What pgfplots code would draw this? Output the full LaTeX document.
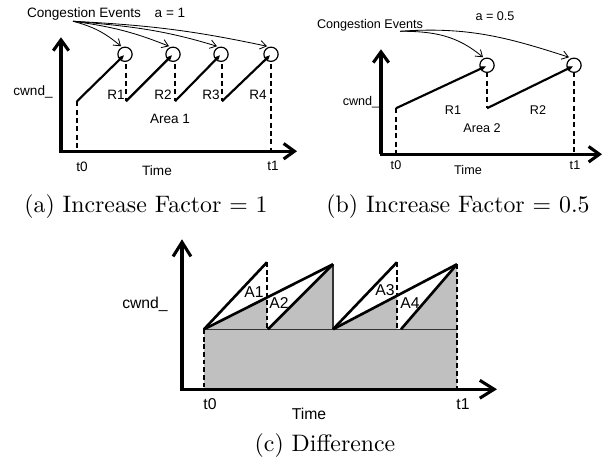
\documentclass[border=0pt]{standalone}
\usepackage{fontspec}
\usepackage{pgfplots}
\pgfplotsset{compat=1.18}
\usetikzlibrary{arrows.meta}
\newfontfamily\lab{Liberation Sans}
\definecolor{shade}{RGB}{192,192,192}
\newcommand\fonta{\lab\fontsize{5.7}{6.5}\selectfont}
\newcommand\fontb{\lab\fontsize{5.3}{6}\selectfont}
\newcommand\fontc{\lab\fontsize{6.6}{7.5}\selectfont}

\begin{document}
\begin{tikzpicture}[
  axarrow/.style={line width=1.3pt, -{Straight Barb[length=4.5pt,width=6.5pt]}},
  bigarrow/.style={line width=1.3pt, -{Straight Barb[length=6pt,width=7.5pt]}},
  saw/.style={line width=0.9pt, -{Stealth[length=2.5pt,width=2.2pt]}},
  dline/.style={line width=1.1pt, dash pattern=on 2.2pt off 1.3pt},
  ev/.style={line width=0.35pt, -{Straight Barb[length=2.6pt,width=3.6pt]}},
]
\begin{axis}[hide axis, x=0.42pt, y=0.42pt,
  xmin=0, xmax=610, ymin=0, ymax=468, clip=false]
\path (0,0) rectangle (610,468);

% ---- (a) increase factor 1
\addplot[axarrow] coordinates {(61,319) (61,433)};
\addplot[axarrow] coordinates {(59,319) (297,319)};
\addplot[dline] coordinates {(77,369) (77,319)};
\addplot[dline] coordinates {(126,406) (126,369)};
\addplot[dline] coordinates {(175,406) (175,369)};
\addplot[dline] coordinates {(222,406) (222,369)};
\addplot[dline] coordinates {(271,406) (271,319)};
\addplot[saw] coordinates {(77,369) (124,415)};
\addplot[saw] coordinates {(126,369) (172,415)};
\addplot[saw] coordinates {(175,369) (220,415)};
\addplot[saw] coordinates {(222,369) (270,415)};
\addplot[only marks, mark=o, mark size=3pt, mark options={line width=0.5pt}]
  coordinates {(125,416) (173,416) (221,416) (271,416)};
\draw[ev] (73,449) to[out=-15,in=140] (121,424);
\draw[ev] (73,449) to[out=-8,in=158] (169,424);
\draw[ev] (73,449) to[out=-5,in=163] (217,424);
\draw[ev] (73,449) to[out=-3,in=168] (267,424);
\node[font=\fonta] at (84,456) {Congestion Events};
\node[font=\fonta] at (170,457) {a = 1};
\node[font=\fonta] at (33,378) {cwnd\_};
\node[font=\fonta] at (116,375) {R1};
\node[font=\fonta] at (163,375) {R2};
\node[font=\fonta] at (211,375) {R3};
\node[font=\fonta] at (258,375) {R4};
\node[font=\fonta] at (170,351) {Area 1};
\node[font=\fonta] at (82,303) {t0};
\node[font=\fonta] at (157,300) {Time};
\node[font=\fonta] at (273,304) {t1};
\node at (146,264) {(a) Increase Factor $=$ 1};

% ---- (b) increase factor 0.5
\addplot[axarrow] coordinates {(381,316) (381,421)};
\addplot[axarrow] coordinates {(380,316) (602,316)};
\addplot[dline] coordinates {(396,362) (396,316)};
\addplot[dline] coordinates {(487,398) (487,362)};
\addplot[dline] coordinates {(574,398) (574,316)};
\addplot[saw] coordinates {(396,362) (486,404)};
\addplot[saw] coordinates {(487,362) (573,404)};
\addplot[only marks, mark=o, mark size=3pt, mark options={line width=0.5pt}]
  coordinates {(487,405) (574,405)};
\draw[ev] (400,439) to[out=0,in=140] (483,413);
\draw[ev] (400,439) to[out=4,in=162] (569,413);
\node[font=\fontb] at (370,445) {Congestion Events};
\node[font=\fontb] at (495,454) {a = 0.5};
\node[font=\fontb] at (361,368) {cwnd\_};
\node[font=\fontb] at (453,360) {R1};
\node[font=\fontb] at (538,360) {R2};
\node[font=\fontb] at (482,342) {Area 2};
\node[font=\fontb] at (396,305) {t0};
\node[font=\fontb] at (468,300) {Time};
\node[font=\fontb] at (575,305) {t1};
\node at (458,264) {(b) Increase Factor $=$ 0.5};

% ---- (c) difference
\addplot[fill=shade, draw=none] coordinates {(204,81) (204,141) (267,173) (267,141)
  (268,141) (333,206) (333,141) (397,175) (397,141) (401,141) (457,206) (457,81)} -- cycle;
\addplot[line width=0.5pt, black!80] coordinates {(204,141) (457,141)};
\addplot[line width=0.5pt, black!80] coordinates {(333,206) (333,141)};
\addplot[line width=0.6pt, dash pattern=on 2pt off 1.2pt] coordinates {(267,208) (267,141)};
\addplot[line width=0.6pt, dash pattern=on 2pt off 1.2pt] coordinates {(397,208) (397,141)};
\addplot[line width=0.6pt, dash pattern=on 2pt off 1.2pt] coordinates {(204,141) (204,81)};
\addplot[line width=0.8pt, dash pattern=on 2pt off 1.2pt] coordinates {(457,206) (457,81)};
\addplot[line width=1.1pt] coordinates {(204,141) (267,208)};
\addplot[line width=1.1pt] coordinates {(204,141) (333,206)};
\addplot[line width=1.1pt] coordinates {(268,141) (333,206)};
\addplot[line width=1.1pt] coordinates {(333,141) (397,208)};
\addplot[line width=1.1pt] coordinates {(333,141) (457,206)};
\addplot[line width=1.1pt] coordinates {(401,141) (457,206)};
\addplot[bigarrow] coordinates {(182,81) (182,231)};
\addplot[bigarrow] coordinates {(180,81) (497,81)};
\node[font=\fontc] at (145,166) {cwnd\_};
\node[font=\fontc] at (254,178) {A1};
\node[font=\fontc] at (279,167) {A2};
\node[font=\fontc] at (385,180) {A3};
\node[font=\fontc] at (410,167) {A4};
\node[font=\fontc] at (210,66) {t0};
\node[font=\fontc] at (309,56) {Time};
\node[font=\fontc] at (463,66) {t1};
\node at (325,25) {(c) Difference};
\end{axis}
\end{tikzpicture}
\end{document}
